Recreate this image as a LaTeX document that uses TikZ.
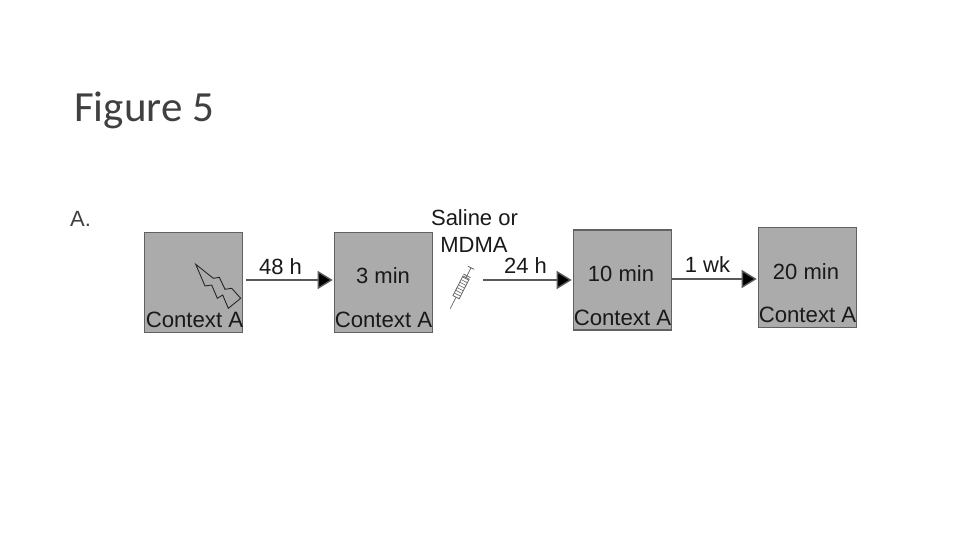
\documentclass[tikz,border=0pt]{standalone}
\usepackage{fontspec}
\setmainfont{Liberation Sans}
\newfontfamily\titlefont{Carlito}
\usetikzlibrary{arrows.meta}

\begin{document}
\begin{tikzpicture}[
		x=1pt, y=-1pt,
		ctx box/.style={draw=black!62, fill=black!33, line width=1.6pt, minimum width=98pt, minimum height=100pt, inner sep=0pt},
		ctx text/.style={text=black!90, font=\fontsize{22.2}{26}\selectfont, inner sep=0pt},
		time text/.style={text=black!90, font=\fontsize{22}{26}\selectfont, inner sep=0pt},
		flow/.style={draw=black!65, line width=1.4pt, -{Triangle[length=15pt, width=18pt, fill=black]}, shorten >=1pt},
		shock/.style={draw=black!85, line width=0.9pt}
		]
		\useasboundingbox (0,0) rectangle (960,540);
		
		% =========================================================
		% Title
		% =========================================================
		\node[font=\fontsize{43}{48}\selectfont\titlefont, text=black!75, anchor=base west, inner sep=0pt] (title) at (74, 121.5) {Figure 5};
		\node[font=\fontsize{22}{26}\selectfont, text=black!75, anchor=base west, inner sep=0pt] (panel) at (70, 226) {A.};
		
		% =========================================================
		% Boxes
		% =========================================================
		\node[ctx box] (boxa) at (193.5, 282.5) {};
		\node[ctx box] (boxb) at (383.5, 282.5) {};
		\node[ctx box] (boxc) at (622.5, 280) {};
		\node[ctx box] (boxd) at (807.5, 277.5) {};
		
		\foreach \n/\x/\y in {a/194.5/327, b/383.5/327, c/622.5/325, d/807.5/322} {
			\node[ctx text, anchor=base] (ctx\n) at (\x, \y) {Context A};
		}
		
		% Times inside the boxes
		\node[time text, anchor=base] (minb) at (383, 283) {3 min};
		\node[time text, anchor=base] (minc) at (621, 281) {10 min};
		\node[time text, anchor=base] (mind) at (806, 279) {20 min};
		
		% =========================================================
		% Arrows
		% =========================================================
		\coordinate (inject) at (483, 280);
		\draw[flow] ([xshift=3pt, yshift=2.5pt]boxa.east) -- ([yshift=2.5pt]boxb.west);
		\draw[flow] (inject) -- (boxc.west);
		\draw[flow] ([yshift=1pt]boxc.east) -- ([yshift=-1.5pt]boxd.west);
		
		\node[time text, anchor=base] (lab48) at (280.5, 274) {48 h};
		\node[time text, anchor=base] (lab24) at (525.5, 273) {24 h};
		\node[time text, anchor=base] (lab1) at (707.5, 272) {1 wk};
		
		% =========================================================
		% Injection
		% =========================================================
		\node[time text, anchor=base] (saline) at (474.5, 225) {Saline or};
		\node[time text, anchor=base] (mdma) at (474, 252) {MDMA};
		
		% Syringe
		\begin{scope}[shift={(461.5, 286.5)}, rotate=63]
			\draw[black!60, line width=0.7pt] (-25,0) -- (-12,0);
			\draw[black!60, fill=white, line width=0.8pt] (-12,-3.5) rectangle (10,3.5);
			\foreach \x in {-9,-6,...,9} {
				\draw[black!60, line width=0.6pt] (\x,-3.5) -- (\x,3.5);
			}
			\draw[black!60, line width=0.8pt] (10,0) -- (21,0);
			\draw[black!60, line width=0.8pt] (12,-4) -- (12,4);
			\draw[black!60, line width=0.8pt] (21,-3.5) -- (21,3.5);
		\end{scope}
		
		% Shock symbol
		\draw[shock] (195.7,264.3) -- (213.3,278.3) -- (219.3,277.3) -- (225,289.3) -- (231.7,288.3) -- (240.7,298.3) -- (228.3,308.3) -- (222.7,295) -- (217.3,298.3) -- (211.7,285) -- (205,286) -- cycle;
		
	\end{tikzpicture}
\end{document}
